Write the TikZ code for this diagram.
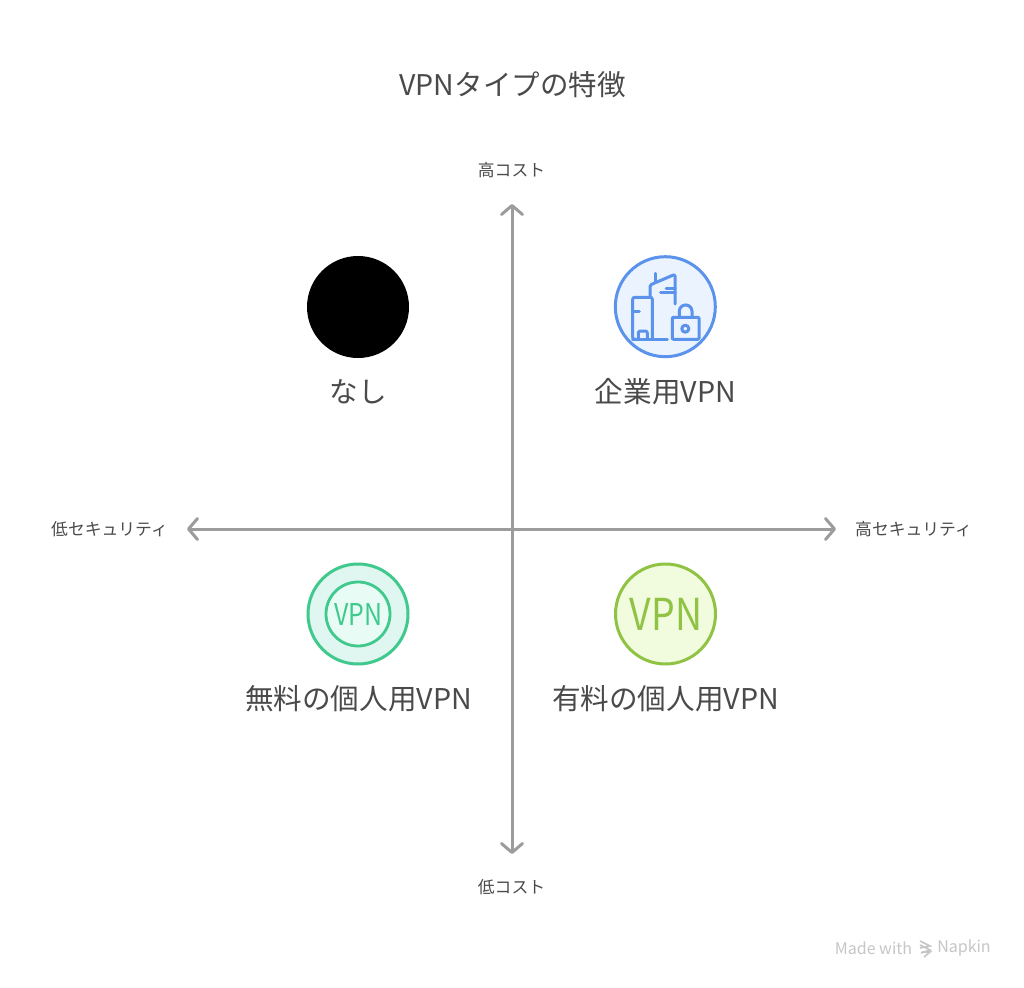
\documentclass[tikz,border=0pt]{standalone}
\usepackage{fontspec}
\setmainfont{Noto Sans CJK JP}
\usetikzlibrary{arrows.meta, positioning}
\definecolor{textgray}{HTML}{4A4A4A}
\definecolor{axisgray}{HTML}{9C9C9C}
\definecolor{markgray}{HTML}{C6C6C6}
\definecolor{blueline}{HTML}{5B93EC}
\definecolor{bluefill}{HTML}{EAF3FE}
\definecolor{greenline}{HTML}{3FC98D}
\definecolor{greenfill}{HTML}{E0F6F0}
\definecolor{greeninner}{HTML}{E8FCF5}
\definecolor{limeline}{HTML}{90C344}
\definecolor{limefill}{HTML}{F1FBDD}
\tikzset{
  axisline/.style={draw=axisgray, line width=3pt, line cap=round, {Straight Barb[length=9pt,width=21pt,line join=round,line cap=round]}-{Straight Barb[length=9pt,width=21pt,line join=round,line cap=round]}},
  axislabel/.style={text=textgray, font=\fontsize{16.8}{20}\selectfont, inner sep=0pt},
  itemlabel/.style={text=textgray, font=\fontsize{28.6}{34}\selectfont, inner sep=0pt},
  itemdisc/.style={circle, minimum size=100pt, inner sep=0pt, line width=3pt},
  iconline/.style={draw=blueline, line width=3pt, line cap=round, line join=round},
}
\begin{document}
\begin{tikzpicture}[x=1pt, y=-1pt]
  \useasboundingbox[fill=white] (0,0) rectangle (1024,987);
  \node[text=textgray, font=\fontsize{28.5}{34}\selectfont, inner sep=0pt] (title) at (512.5,85) {VPNタイプの特徴};
  % axes
  \node[axislabel] (highcost) at (511.5,170) {高コスト};
  \node[axislabel] (lowcost) at (511.5,887) {低コスト};
  \node[axislabel] (lowsec) at (109.5,529) {低セキュリティ};
  \node[axislabel] (highsec) at (913.5,529) {高セキュリティ};
  \coordinate (top) at (512,204);
  \coordinate (bottom) at (512,854);
  \coordinate (left) at (187,529);
  \coordinate (right) at (836,529);
  \draw[axisline] (left) -- (right);
  \draw[axisline] (bottom) -- (top);
  % items
  \node[itemdisc, fill=black, minimum size=102pt] (none) at (358,307) {};
  \node[itemlabel] (nonelabel) at (358,392) {なし};
  \node[itemdisc, draw=blueline, fill=bluefill] (enterprise) at (665.3,306.7) {};
  \node[itemlabel] (enterpriselabel) at (665.5,392) {企業用VPN};
  \node[itemdisc, draw=greenline, fill=greenfill] (free) at (358,614) {};
  \node[circle, minimum size=64pt, inner sep=0pt, line width=2.8pt, draw=greenline, fill=greeninner] (freeinner) at (358,614) {};
  \node[text=greenline, inner sep=0pt] (freevpn) at (358.5,614) {\scalebox{.83}[1]{\fontsize{30}{30}\selectfont VPN}};
  \node[itemlabel] (freelabel) at (358.5,699) {無料の個人用VPN};
  \node[itemdisc, draw=limeline, fill=limefill] (paid) at (665.5,614) {};
  \node[text=limeline, inner sep=0pt] (paidvpn) at (666,614) {\scalebox{.85}[1]{\fontsize{44}{44}\selectfont VPN}};
  \node[itemlabel] (paidlabel) at (665.5,699) {有料の個人用VPN};
  % enterprise icon
  \draw[iconline, rounded corners=2pt] (639.5,339.3) -- (632.7,339.3) -- (632.7,297.3) -- (652.3,297.3) -- (652.3,339.3);
  \draw[iconline] (632.7,339.3) -- (667.3,339.3);
  \draw[iconline] (633.3,311) -- (639.3,311);
  \draw[iconline, rounded corners=2pt] (638.3,339.3) -- (638.3,331) -- (647.3,331) -- (647.3,339.3);
  \draw[iconline, rounded corners=1.5pt] (650,296) -- (650,285) -- (675,274.3) -- (675,304);
  \draw[iconline] (655.7,273.3) -- (655.7,282);
  \draw[iconline] (666,288.3) -- (675,288.3);
  \draw[iconline] (660.7,292.7) -- (675,292.7);
  \draw[iconline, rounded corners=1pt] (672.3,317.3) rectangle (699,339.3);
  \draw[iconline] (679.3,317.3) -- (679.3,311.3) arc[start angle=180, end angle=360, radius=6.35] -- (692,317.3);
  \draw[iconline] (685.3,328.7) circle[radius=3.5];
  % watermark
  \node[text=markgray, font=\fontsize{16}{18}\selectfont, inner sep=0pt] (madewith) at (873.5,948) {Made with};
  \node[text=markgray, font=\fontsize{16}{18}\selectfont, inner sep=0pt] (napkin) at (964,948) {Napkin};
  \draw[markgray, line width=1.6pt] (920,941) -- (930,946) -- (920,948) (920,945) -- (930,950) -- (921,953) (922,952) -- (930,952) -- (924,957);
\end{tikzpicture}
\end{document}
